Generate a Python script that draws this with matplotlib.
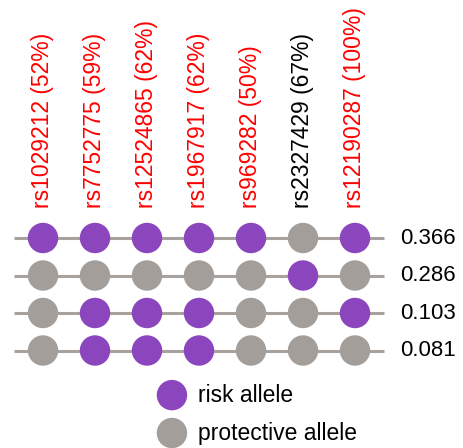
import matplotlib
matplotlib.use("Agg")
import matplotlib.pyplot as plt

snps = ["rs1029212", "rs7752775", "rs12524865", "rs1967917", "rs969282", "rs2327429", "rs12190287"]
pcts = ["52%", "59%", "62%", "62%", "50%", "67%", "100%"]
label_colors = ["red", "red", "red", "red", "red", "black", "red"]
# 1 = risk allele, 0 = protective allele
haplotypes = [
    [1, 1, 1, 1, 1, 0, 1],
    [0, 0, 0, 0, 0, 1, 0],
    [0, 1, 1, 1, 0, 0, 1],
    [0, 1, 1, 1, 0, 0, 0],
]
freqs = ["0.366", "0.286", "0.103", "0.081"]
legend_labels = ["risk allele", "protective allele"]

PURPLE = "#8B45BD"
GRAY = "#A39E9A"
LINE = "#A8A29E"

plt.rcParams["font.family"] = ["Liberation Sans", "DejaVu Sans"]

fig = plt.figure(figsize=(4.64, 4.48), dpi=100)
ax = fig.add_axes([0, 0, 1, 1])
ax.set_xlim(-43 / 52, (464 - 43) / 52)
ax.set_ylim((448 - 238) / 37.5, -238 / 37.5)
ax.axis("off")

n = len(snps)
for j, row in enumerate(haplotypes):
    ax.plot([-0.56, n - 1 + 0.56], [j, j], color=LINE, lw=2.2, zorder=1, solid_capstyle="butt")
    xs = list(range(n))
    cols = [PURPLE if v else GRAY for v in row]
    ax.scatter(xs, [j] * n, s=480, c=cols, edgecolors="none", zorder=2)
    ax.text(n - 1 + 0.87, j, freqs[j], fontsize=16, va="center", ha="left", color="black")

for i, (s, p, c) in enumerate(zip(snps, pcts, label_colors)):
    ax.text(i, -0.8, f"{s} ({p})", rotation=90, fontsize=16.5, color=c, ha="center", va="bottom")

leg_y = [4.19, 5.2]
for k, (lab, col) in enumerate(zip(legend_labels, [PURPLE, GRAY])):
    ax.scatter([2.48], [leg_y[k]], s=480, c=[col], edgecolors="none")
    ax.text(2.98, leg_y[k], lab, fontsize=16.5, va="center", ha="left", color="black")

fig.savefig("out.png", dpi=100)
